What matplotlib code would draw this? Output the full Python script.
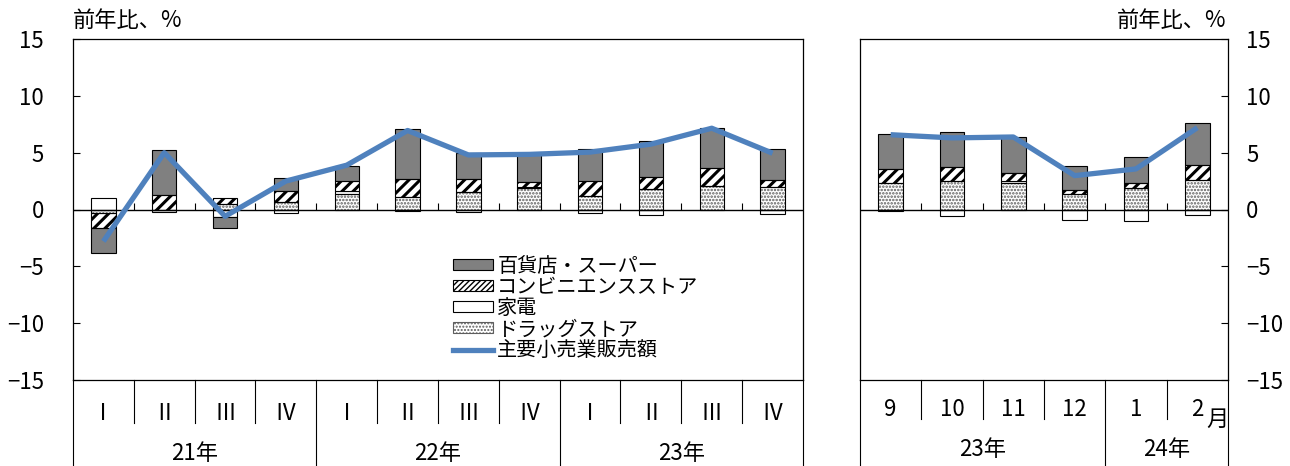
import numpy as np
import matplotlib
matplotlib.use("Agg")
import matplotlib.pyplot as plt
from matplotlib.patches import Patch
from matplotlib.lines import Line2D

plt.rcParams['font.family'] = ['Noto Sans CJK JP', 'DejaVu Sans']

# ---------------- data ----------------
q_labels = ["Ⅰ", "Ⅱ", "Ⅲ", "Ⅳ"] * 3
q_years = ["21年", "22年", "23年"]
q_dept = [-2.2, 3.9, -0.9, 1.2, 1.4, 4.4, 2.25, 2.5, 2.8, 3.1, 3.55, 2.7]
q_conv = [-1.25, 1.3, 0.5, 0.9, 0.8, 1.6, 1.1, 0.47, 1.26, 1.1, 1.6, 0.67]
q_appl = [1.0, -0.2, -0.7, -0.35, 0.3, -0.1, -0.18, 0.08, -0.3, -0.47, 0.0, -0.4]
q_drug = [-0.35, 0.0, 0.5, 0.7, 1.37, 1.08, 1.58, 1.87, 1.23, 1.8, 2.05, 1.96]
q_total = [-2.8, 5.0, -0.6, 2.5, 3.9, 6.95, 4.8, 4.85, 5.05, 5.75, 7.15, 4.95]

m_labels = ["9", "10", "11", "12", "1", "2"]
m_years = ["23年", "24年"]
m_dept = [3.07, 3.07, 3.2, 2.08, 2.25, 3.74]
m_conv = [1.26, 1.23, 0.65, 0.35, 0.44, 1.3]
m_appl = [-0.1, -0.6, 0.23, -0.9, -0.97, -0.47]
m_drug = [2.3, 2.5, 2.3, 1.37, 1.9, 2.6]
m_total = [6.58, 6.3, 6.38, 2.98, 3.57, 7.2]

series_names = ["百貨店・スーパー", "コンビニエンスストア", "家電", "ドラッグストア"]
line_name = "主要小売業販売額"

# ---------------- style ----------------
FS = 16
BLUE = "#4f81bd"
GRAY = "#808080"
DOT = "#5e5e5e"
W = 0.4
styles = {
    "drug": dict(face="white", hatch=".....", hcolor=DOT, hlw=1.2),
    "appl": dict(face="white", hatch=None, hcolor="black", hlw=1.0),
    "conv": dict(face="white", hatch="///", hcolor="black", hlw=2.2),
    "dept": dict(face=GRAY, hatch=None, hcolor="black", hlw=1.0),
}

fig = plt.figure(figsize=(12.9, 4.66), dpi=100)
axL = fig.add_axes([73/1290, 86/466, 730/1290, 341/466])
axR = fig.add_axes([860/1290, 86/466, 368/1290, 341/466])


def draw_stack(ax, comps, total):
    n = len(total)
    x = np.arange(n)
    pos = np.zeros(n)
    neg = np.zeros(n)
    for key, vals in comps:
        v = np.asarray(vals, float)
        bottom = np.where(v >= 0, pos, neg)
        st = styles[key]
        if st["hatch"]:
            with plt.rc_context({'hatch.linewidth': st["hlw"]}):
                ax.bar(x, v, W, bottom=bottom, color=st["face"], edgecolor=st["hcolor"],
                       hatch=st["hatch"], linewidth=0, zorder=2)
            ax.bar(x, v, W, bottom=bottom, fill=False, edgecolor="black", linewidth=0.8, zorder=3)
        else:
            ax.bar(x, v, W, bottom=bottom, color=st["face"], edgecolor="black", linewidth=0.8, zorder=2)
        pos = pos + np.where(v >= 0, v, 0)
        neg = neg + np.where(v < 0, v, 0)
    ax.plot(x, total, color=BLUE, lw=3.8, zorder=5, solid_capstyle="butt")
    ax.set_xlim(-0.5, n - 0.5)
    ax.set_ylim(-15, 15)
    ax.axhline(0, color="black", lw=1.0, zorder=4)
    b = np.arange(n - 1) + 0.5
    ax.vlines(b, 0, 0.55, color="black", lw=0.8, zorder=4)
    for s in ax.spines.values():
        s.set_linewidth(0.9)
    return x


xL = draw_stack(axL, [("drug", q_drug), ("appl", q_appl), ("conv", q_conv), ("dept", q_dept)], q_total)
xR = draw_stack(axR, [("drug", m_drug), ("appl", m_appl), ("conv", m_conv), ("dept", m_dept)], m_total)

yt = np.arange(-15, 16, 5)
axL.set_yticks(yt)
axL.tick_params(axis="y", direction="in", length=5, width=0.8, pad=21, labelsize=FS)
axR.set_yticks(yt)
axR.yaxis.tick_right()
axR.tick_params(axis="y", direction="in", length=5, width=0.8, pad=13, labelsize=FS)

axL.set_xticks(xL)
axL.set_xticklabels(q_labels)
axL.tick_params(axis="x", length=0, pad=16, labelsize=FS)
axR.set_xticks(xR)
axR.set_xticklabels(m_labels)
axR.tick_params(axis="x", length=0, pad=13, labelsize=FS)

# category table lines
def table_lines(ax, n, year_bounds, short_len, long_len):
    tr = ax.get_xaxis_transform()
    for b in np.arange(n + 1) - 0.5:
        ln = long_len if b in year_bounds else short_len
        ax.plot([b, b], [0, -ln], transform=tr, color="black", lw=0.8, clip_on=False)

table_lines(axL, 12, [-0.5, 3.5, 7.5, 11.5], 43/341, 86/341)
table_lines(axR, 6, [-0.5, 3.5, 5.5], 39/341, 86/341)

trL = axL.get_xaxis_transform()
for i, yl in enumerate(q_years):
    axL.text(4 * i + 1.5, -74/341, yl, transform=trL, ha="center", va="center", fontsize=FS)
trR = axR.get_xaxis_transform()
axR.text(1.5, -70/341, m_years[0], transform=trR, ha="center", va="center", fontsize=FS)
axR.text(4.5, -70/341, m_years[1], transform=trR, ha="center", va="center", fontsize=FS)
axR.text(5.33, -39/341, "月", transform=trR, ha="center", va="center", fontsize=FS)

fig.text(73/1290, 1 - 20/466, "前年比、%", ha="left", va="center", fontsize=FS)
fig.text(1226/1290, 1 - 20/466, "前年比、%", ha="right", va="center", fontsize=FS)

# legend
with plt.rc_context({'hatch.linewidth': 1.6}):
    h_conv = Patch(facecolor="white", edgecolor="black", hatch="//////", linewidth=0.8)
with plt.rc_context({'hatch.linewidth': 1.0}):
    h_drug = Patch(facecolor="white", edgecolor=DOT, hatch=".....", linewidth=0.8)
handles = [
    Patch(facecolor=GRAY, edgecolor="black", linewidth=0.8),
    h_conv,
    Patch(facecolor="white", edgecolor="black", linewidth=0.8),
    h_drug,
    Line2D([0], [0], color=BLUE, lw=3.8),
]
leg = axL.legend(handles, series_names + [line_name], loc="upper left",
                 bbox_to_anchor=((453 - 73) / 730, (380 - 256) / 341),
                 frameon=False, fontsize=14.5, borderaxespad=0, borderpad=0,
                 handlelength=2.0, handleheight=0.45, handletextpad=0.2,
                 labelspacing=0.0)
leg.set_zorder(6)

fig.savefig("out.png", dpi=100)
